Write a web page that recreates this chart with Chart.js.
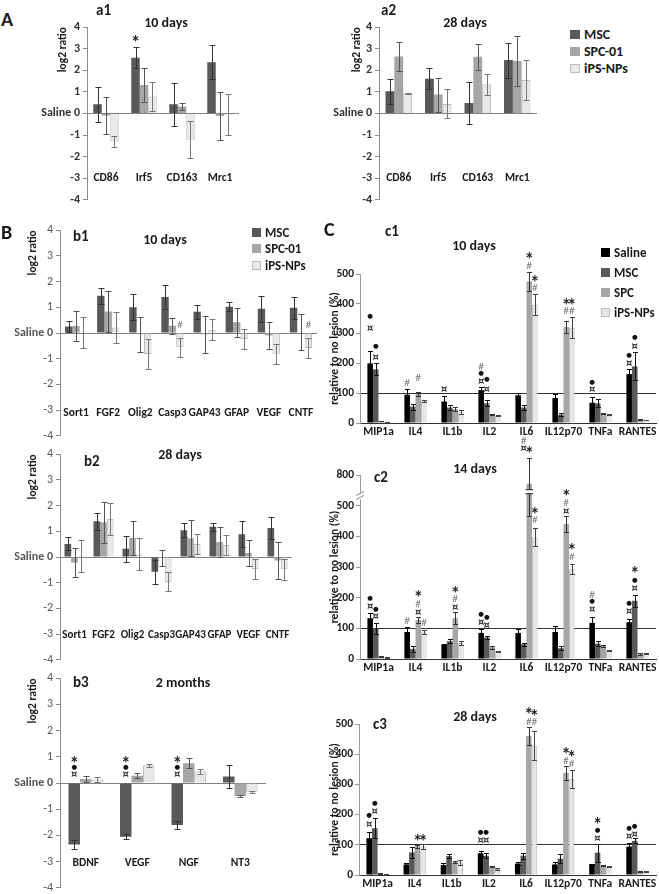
<!DOCTYPE html>
<html>
<head>
<meta charset="utf-8">
<script src="https://cdn.jsdelivr.net/npm/chart.js@4.4.0/dist/chart.umd.min.js"></script>
<style>
body{margin:0;background:#fff;width:659px;height:894px;position:relative;overflow:hidden;font-family:Carlito,Lato,sans-serif;color:#1a1a1a}
canvas{position:absolute}
.t{position:absolute;font-weight:bold;white-space:nowrap;line-height:1}
.c{transform:translateX(-50%)}
.lg{position:absolute;font-weight:bold;white-space:nowrap}
.lg div{display:flex;align-items:center}
.lg span{display:inline-block;margin-right:4px;box-sizing:border-box}
</style>
</head>
<body>
<canvas id="a1"></canvas>
<canvas id="a2"></canvas>
<canvas id="b1"></canvas>
<canvas id="b2"></canvas>
<canvas id="b3"></canvas>
<canvas id="c1"></canvas>
<canvas id="c2"></canvas>
<canvas id="c3"></canvas>

<div class="t" style="left:1px;top:9px;font-size:20px">A</div>
<div class="t" style="left:96px;top:3px;font-size:15px">a1</div>
<div class="t c" style="left:166px;top:16px;font-size:14px">10 days</div>
<div class="t" style="left:381px;top:3px;font-size:15px">a2</div>
<div class="t c" style="left:465px;top:16px;font-size:14px">28 days</div>
<div class="lg" style="left:570px;top:26px;font-size:14px">
  <div style="height:17px"><span style="width:10px;height:9px;background:#595959"></span>MSC</div>
  <div style="height:17px"><span style="width:10px;height:9px;background:#a6a6a6"></span>SPC-01</div>
  <div style="height:17px"><span style="width:10px;height:9px;background:#e8e8e8;border:1px solid #bdbdbd"></span>iPS-NPs</div>
</div>

<div class="t" style="left:1px;top:222px;font-size:20px">B</div>
<div class="t" style="left:73px;top:229px;font-size:15px">b1</div>
<div class="t c" style="left:165px;top:233px;font-size:14px">10 days</div>
<div class="lg" style="left:252px;top:224px;font-size:13px">
  <div style="height:16.5px"><span style="width:9px;height:9px;background:#595959"></span>MSC</div>
  <div style="height:16.5px"><span style="width:9px;height:9px;background:#a6a6a6"></span>SPC-01</div>
  <div style="height:16.5px"><span style="width:9px;height:9px;background:#e8e8e8;border:1px solid #bdbdbd"></span>iPS-NPs</div>
</div>
<div class="t" style="left:84px;top:454px;font-size:15px">b2</div>
<div class="t c" style="left:180px;top:448px;font-size:14px">28 days</div>
<div class="t" style="left:73px;top:675px;font-size:15px">b3</div>
<div class="t c" style="left:183px;top:676px;font-size:14px">2 months</div>

<div class="t" style="left:324px;top:219px;font-size:20px">C</div>
<div class="t" style="left:385px;top:224px;font-size:15px">c1</div>
<div class="t c" style="left:474px;top:239px;font-size:14px">10 days</div>
<div class="lg" style="left:601px;top:242px;font-size:13px">
  <div style="height:20px"><span style="width:9px;height:9px;background:#000"></span>Saline</div>
  <div style="height:20px"><span style="width:9px;height:9px;background:#595959"></span>MSC</div>
  <div style="height:20px"><span style="width:9px;height:9px;background:#a6a6a6"></span>SPC</div>
  <div style="height:20px"><span style="width:9px;height:9px;background:#e6e6e6;border:1px solid #bdbdbd"></span>iPS-NPs</div>
</div>
<div class="t" style="left:374px;top:470px;font-size:15px">c2</div>
<div class="t c" style="left:475px;top:462px;font-size:14px">14 days</div>
<div class="t" style="left:373px;top:717px;font-size:15px">c3</div>
<div class="t c" style="left:475px;top:710px;font-size:14px">28 days</div>

<script>
// ---- A: macrophage markers, log2 ratio vs saline
const aGenes = ['CD86', 'Irf5', 'CD163', 'Mrc1'];
const a1MSC = [0.42, 2.58, 0.42, 2.37];
const a1MSCErr = [0.82, 0.48, 1.0, 0.8];
const a1SPC = [-0.1, 1.32, 0.32, -0.12];
const a1SPCErr = [0.87, 0.8, 0.16, 1.13];
const a1iPS = [-1.3, 0.78, -1.22, -0.05];
const a1iPSErr = [0.24, 0.69, 0.85, 0.94];

const a2MSC = [1.02, 1.6, 0.48, 2.47];
const a2MSCErr = [0.57, 0.48, 0.96, 0.81];
const a2SPC = [2.63, 0.87, 2.62, 2.43];
const a2SPCErr = [0.67, 0.79, 0.6, 1.17];
const a2iPS = [0.93, 0.44, 1.35, 1.55];
const a2iPSErr = [0.03, 0.67, 0.49, 0.94];

// ---- B: growth factors etc.
const bGenes = ['Sort1', 'FGF2', 'Olig2', 'Casp3', 'GAP43', 'GFAP', 'VEGF', 'CNTF'];
const b1MSC = [0.25, 1.45, 1.0, 1.4, 0.83, 1.02, 0.94, 0.98];
const b1MSCErr = [0.22, 0.32, 0.5, 0.45, 0.27, 0.17, 0.5, 0.42];
const b1SPC = [0.27, 0.84, -0.05, 0.28, -0.05, 0.42, -0.1, 0.02];
const b1SPCErr = [0.57, 0.8, 0.67, 0.32, 0.72, 0.56, 0.52, 0.7];
const b1iPS = [0.02, 0.21, -0.82, -0.55, 0.13, -0.23, -0.81, -0.58];
const b1iPSErr = [0.62, 0.6, 0.6, 0.37, 0.41, 0.39, 0.4, 0.4];

const b2MSC = [0.51, 1.39, 0.32, -0.57, 1.04, 1.18, 0.89, 1.13];
const b2MSCErr = [0.25, 0.33, 0.5, 0.47, 0.27, 0.16, 0.5, 0.42];
const b2SPC = [-0.22, 1.35, 0.75, -0.04, 0.73, 0.58, 0.16, -0.14];
const b2SPCErr = [0.57, 0.8, 0.66, 0.3, 0.7, 0.57, 0.52, 0.72];
const b2iPS = [0.04, 1.48, 0.1, -0.97, 0.51, 0.47, -0.47, -0.48];
const b2iPSErr = [0.63, 0.61, 0.62, 0.37, 0.4, 0.4, 0.38, 0.42];

const b3Genes = ['BDNF', 'VEGF', 'NGF', 'NT3'];
const b3MSC = [-2.35, -2.05, -1.6, 0.25];
const b3MSCErr = [0.17, 0.1, 0.15, 0.44];
const b3SPC = [0.15, 0.28, 0.75, -0.5];
const b3SPCErr = [0.12, 0.1, 0.19, 0.05];
const b3iPS = [0.13, 0.68, 0.45, -0.35];
const b3iPSErr = [0.1, 0.06, 0.1, 0.03];

// ---- C: cytokines, % of no lesion
const cyto = ['MIP1a', 'IL4', 'IL1b', 'IL2', 'IL6', 'IL12p70', 'TNFa', 'RANTES'];
const c1Saline = [200, 95, 72, 110, 93, 84, 68, 164];
const c1SalineErr = [40, 18, 17, 12, 8, 13, 20, 16];
const c1MSC = [180, 55, 52, 66, 52, 28, 66, 190];
const c1MSCErr = [20, 10, 10, 10, 7, 5, 13, 47];
const c1SPC = [7, 97, 47, 28, 475, 322, 33, 11];
const c1SPCErr = [1, 8, 8, 2, 33, 19, 2, 1];
const c1iPS = [3, 75, 36, 24, 397, 320, 28, 10];
const c1iPSErr = [1, 3, 7, 2, 36, 35, 2, 1];

const c2Saline = [133, 88, 47, 85, 85, 88, 118, 120];
const c2SalineErr = [17, 16, 3, 13, 12, 20, 20, 10];
const c2MSC = [100, 33, 58, 70, 48, 35, 50, 190];
const c2MSCErr = [17, 9, 6, 6, 4, 7, 8, 20];
const c2SPC = [8, 127, 133, 38, 715, 440, 43, 17];
const c2SPCErr = [1, 10, 20, 5, 250, 25, 3, 3];
const c2iPS = [5, 87, 52, 25, 397, 293, 27, 18];
const c2iPSErr = [1, 7, 6, 2, 30, 17, 2, 2];

const c3Saline = [122, 35, 33, 72, 38, 35, 36, 94];
const c3SalineErr = [22, 5, 7, 8, 6, 7, 2, 12];
const c3MSC = [155, 75, 63, 64, 64, 54, 74, 113];
const c3MSCErr = [33, 18, 7, 9, 10, 15, 30, 8];
const c3SPC = [4, 95, 43, 29, 460, 338, 31, 11];
const c3SPCErr = [1, 5, 3, 2, 30, 22, 2, 1];
const c3iPS = [3, 94, 42, 20, 428, 318, 28, 11];
const c3iPSErr = [1, 9, 8, 2, 48, 30, 2, 1];

const cTicks = [0, 100, 200, 300, 400, 500];
const c2Ticks = [0, 100, 200, 300, 400, 500, 800];

// significance marks: [category, dataset, y value, symbol]
const a1Marks = [[1, 0, 3.42, '*']];
const b1Marks = [[3, 2, 0.33, '#'], [7, 2, 0.32, '#']];
const b3Marks = [[0, 0, 0.31, '¤'], [0, 0, 0.6, '●'], [0, 0, 0.88, '*'],
  [1, 0, 0.31, '¤'], [1, 0, 0.6, '●'], [1, 0, 0.88, '*'],
  [2, 0, 0.31, '¤'], [2, 0, 0.6, '●'], [2, 0, 0.88, '*']];
const c1Marks = [[0, 0, 358, '●'], [0, 0, 319, '¤'], [0, 1, 256, '●'], [0, 1, 220, '¤'],
  [1, 0, 134, '#'], [1, 2, 153, '#'], [2, 0, 112, '¤'],
  [3, 0, 190, '#'], [3, 0, 166, '●'], [3, 0, 140, '¤'], [3, 1, 146, '●'], [3, 1, 114, '¤'],
  [4, 2, 559, '*'], [4, 2, 528, '#'], [4, 3, 484, '*'], [4, 3, 453, '#'], [4, 1, -58, '#'], [4, 1, -85, '¤'],
  [5, 2, 406, '*'], [5, 2, 375, '#'], [5, 3, 406, '*'], [5, 3, 375, '#'],
  [6, 0, 136, '●'], [6, 0, 114, '¤'],
  [7, 0, 227, '●'], [7, 0, 199, '¤'], [7, 1, 287, '●'], [7, 1, 257, '¤']];
const c2Marks = [[0, 0, 198, '●'], [0, 0, 170, '¤'], [0, 1, 161, '●'], [0, 1, 138, '¤'],
  [1, 0, 124, '#'], [1, 2, 211, '*'], [1, 2, 181, '#'], [1, 2, 152, '¤'], [1, 3, 119, '#'],
  [2, 2, 226, '*'], [2, 2, 197, '#'], [2, 2, 168, '¤'],
  [3, 0, 146, '●'], [3, 0, 120, '¤'], [3, 1, 135, '●'], [3, 1, 111, '¤'],
  [4, 2, 1040, '*'], [4, 3, 482, '*'], [4, 3, 455, '#'],
  [5, 2, 623, '*'], [5, 2, 533, '#'], [5, 2, 482, '¤'], [5, 3, 363, '*'], [5, 3, 333, '#'],
  [6, 0, 210, '#'], [6, 0, 189, '●'], [6, 0, 161, '¤'],
  [7, 0, 181, '●'], [7, 0, 154, '¤'], [7, 1, 288, '*'], [7, 1, 256, '●'], [7, 1, 231, '¤']];
const c3Marks = [[0, 0, 196, '●'], [0, 0, 166, '¤'], [0, 1, 238, '●'], [0, 1, 210, '¤'],
  [1, 2, 122, '*'], [1, 3, 122, '*'],
  [3, 0, 140, '●'], [3, 0, 114, '¤'], [3, 1, 140, '●'], [3, 1, 114, '¤'],
  [4, 2, 542, '*'], [4, 2, 509, '#'], [4, 3, 536, '*'], [4, 3, 507, '#'],
  [5, 2, 411, '*'], [5, 2, 379, '#'], [5, 3, 401, '*'], [5, 3, 368, '#'],
  [6, 1, 177, '*'], [6, 1, 149, '●'], [6, 1, 122, '¤'],
  [7, 0, 153, '●'], [7, 0, 127, '¤'], [7, 1, 160, '●'], [7, 1, 135, '¤']];

Chart.defaults.font.family = 'Carlito, Lato, sans-serif';
Chart.defaults.color = '#222';

// y axis of c2 has a break above 500: values over 500 are squeezed 3x
class BrokenScale extends Chart.LinearScale {
  static id = 'broken';
  getPixelForValue(v) {
    return super.getPixelForValue(v > 500 ? 500 + (v - 500) / 3 : v);
  }
}
Chart.register(BrokenScale);

const markStyle = {
  '*': {font: 'bold 18px Lato', color: '#222', dy: 4},
  '●': {font: '6.5px "DejaVu Sans"', color: '#111', dy: 0},
  '¤': {font: 'bold 10px "DejaVu Sans"', color: '#333', dy: 0},
  '#': {font: '10px Lato', color: '#777', dy: 0}
};

function extrasFor(marks, cap, brk) {
  return {
    id: 'extras',
    afterDatasetsDraw(chart) {
      const ctx = chart.ctx, ys = chart.scales.y;
      ctx.save();
      chart.data.datasets.forEach((ds, di) => {
        chart.getDatasetMeta(di).data.forEach((bar, i) => {
          const v = ds.data[i], e = ds.errors[i];
          if (!e) return;
          const x = Math.round(bar.x) + 0.5;
          const y1 = Math.round(ys.getPixelForValue(v + e)) + 0.5;
          const y2 = Math.round(ys.getPixelForValue(v - e)) + 0.5;
          ctx.strokeStyle = ds.errColor;
          ctx.lineWidth = 1;
          ctx.beginPath();
          ctx.moveTo(x, y1); ctx.lineTo(x, y2);
          ctx.moveTo(x - cap, y1); ctx.lineTo(x + cap, y1);
          ctx.moveTo(x - cap, y2); ctx.lineTo(x + cap, y2);
          ctx.stroke();
        });
      });
      if (brk) {
        const bar = chart.getDatasetMeta(brk.di).data[brk.ci];
        const yHi = ys.getPixelForValue(brk.hi), yLo = ys.getPixelForValue(brk.lo);
        const hw = bar.width / 2 + 1;
        ctx.fillStyle = '#fff';
        ctx.fillRect(bar.x - hw, yHi, hw * 2, yLo - yHi);
        ctx.strokeStyle = '#222';
        ctx.beginPath();
        ctx.moveTo(bar.x - hw, yHi); ctx.lineTo(bar.x + hw, yHi);
        ctx.moveTo(bar.x - hw, yLo); ctx.lineTo(bar.x + hw, yLo);
        ctx.stroke();
        const ax = chart.chartArea.left, ya = ys.getPixelForValue(brk.axis);
        ctx.fillRect(ax - 2, ya - 3, 4, 6);
        ctx.strokeStyle = '#888';
        ctx.beginPath();
        ctx.moveTo(ax - 4, ya - 1); ctx.lineTo(ax + 4, ya - 5);
        ctx.moveTo(ax - 4, ya + 3); ctx.lineTo(ax + 4, ya - 1);
        ctx.stroke();
      }
      ctx.textAlign = 'center';
      ctx.textBaseline = 'middle';
      marks.forEach(([ci, di, val, sym]) => {
        const bar = chart.getDatasetMeta(di).data[ci];
        const st = markStyle[sym];
        ctx.font = st.font;
        ctx.fillStyle = st.color;
        ctx.fillText(sym, bar.x, ys.getPixelForValue(val) + st.dy);
      });
      ctx.restore();
    }
  };
}

function set(label, data, errors, color, errColor, cp, border) {
  return {
    label, data, errors, errColor,
    backgroundColor: color,
    borderColor: border || color,
    borderWidth: border ? 1 : 0,
    barPercentage: 1,
    categoryPercentage: cp
  };
}

// box = chart area in page pixels: L (y axis), R, T (top value), B (bottom value)
function barChart(id, box, labels, datasets, o) {
  const cv = document.getElementById(id);
  const p = o.pad;
  const w = p.left + o.yW + (box.R - box.L) + p.right;
  const h = p.top + (box.B - box.T) + (o.xH || 0) + p.bottom;
  cv.width = w; cv.height = h;
  cv.style.width = w + 'px'; cv.style.height = h + 'px';
  cv.style.left = (box.L - o.yW - p.left) + 'px';
  cv.style.top = (box.T - p.top) + 'px';
  const y = o.scales.y;
  y.afterFit = s => { s.width = o.yW; };
  y.title.padding = {top: o.titleX - (box.L - o.yW - p.left) - y.title.font.size * 0.6, bottom: 0};
  if (o.xH) o.scales.x.afterFit = s => { s.height = o.xH; };
  return new Chart(cv, {
    type: 'bar',
    data: {labels, datasets},
    options: {
      responsive: false,
      animation: false,
      events: [],
      layout: {padding: p},
      plugins: {legend: {display: false}, tooltip: {enabled: false}},
      scales: o.scales
    },
    plugins: [extrasFor(o.marks, o.cap, o.brk)]
  });
}

function logScales(labelAt, xFont, boldTicks) {
  return {
    x: {
      position: {y: labelAt},
      grid: {display: false, drawTicks: false},
      border: {display: false},
      ticks: {autoSkip: false, maxRotation: 0, minRotation: 0, padding: 3, color: '#1a1a1a',
        font: {size: xFont, weight: 'bold'}}
    },
    y: {
      min: -4, max: 4,
      ticks: {
        stepSize: 1, padding: 3,
        color: boldTicks ? '#333' : '#555',
        font: c => ({size: 12, weight: (boldTicks || (c.tick && c.tick.value === 0)) ? 'bold' : 'normal'}),
        callback: v => v === 0 ? 'Saline 0' : v
      },
      grid: {
        color: c => c.tick && c.tick.value === 0 ? '#808080' : 'rgba(0,0,0,0)',
        tickColor: '#8c8c8c', tickLength: 4
      },
      border: {color: '#8c8c8c'},
      title: {display: true, text: 'log2 ratio', align: 'end', color: '#1a1a1a',
        font: {size: 11.5, weight: 'bold'}}
    }
  };
}

function cScales(type, max, ticks) {
  return {
    x: {
      grid: {display: false, drawTicks: false},
      border: {color: '#333'},
      ticks: {autoSkip: false, maxRotation: 0, minRotation: 0, padding: 2, color: '#1a1a1a',
        font: {size: 11.5, weight: 'bold'}}
    },
    y: {
      type, min: 0, max,
      afterBuildTicks: s => { s.ticks = ticks.map(v => ({value: v})); },
      ticks: {padding: 2, color: '#222', font: {size: 11.5, weight: 'bold'}},
      grid: {
        color: c => c.tick && c.tick.value === 100 ? '#333' : 'rgba(0,0,0,0)',
        tickColor: '#999', tickLength: 4
      },
      border: {color: '#999'},
      title: {display: true, text: 'relative to no lesion (%)', color: '#1a1a1a',
        font: {size: 11.5, weight: 'bold'}}
    }
  };
}

const gDark = '#595959', gMid = '#a6a6a6', gLight = '#e8e8e8', gEdge = '#bdbdbd';

function logSets(m, me, s, se, ip, ie, cp) {
  return [
    set('MSC', m, me, gDark, '#333', cp),
    set('SPC-01', s, se, gMid, '#555', cp),
    set('iPS-NPs', ip, ie, gLight, '#777', cp, gEdge)
  ];
}
function cSets(sa, sae, m, me, s, se, ip, ie) {
  return [
    set('Saline', sa, sae, '#000', '#000', 0.6),
    set('MSC', m, me, gDark, '#111', 0.6),
    set('SPC', s, se, gMid, '#333', 0.6),
    set('iPS-NPs', ip, ie, '#e6e6e6', '#444', 0.6, gEdge)
  ];
}

barChart('a1', {L: 87, R: 239, T: 27, B: 202}, aGenes,
  logSets(a1MSC, a1MSCErr, a1SPC, a1SPCErr, a1iPS, a1iPSErr, 0.67),
  {yW: 60, titleX: 63, pad: {left: 0, top: 14, right: 12, bottom: 8}, cap: 3, marks: a1Marks,
   scales: logScales(-2.56, 11.5, true)});
barChart('a2', {L: 379, R: 537, T: 27, B: 202}, aGenes,
  logSets(a2MSC, a2MSCErr, a2SPC, a2SPCErr, a2iPS, a2iPSErr, 0.67),
  {yW: 60, titleX: 357, pad: {left: 0, top: 14, right: 10, bottom: 8}, cap: 3, marks: [],
   scales: logScales(-2.56, 11.5, true)});

barChart('b1', {L: 60, R: 317, T: 230, B: 438}, bGenes,
  logSets(b1MSC, b1MSCErr, b1SPC, b1SPCErr, b1iPS, b1iPSErr, 0.69),
  {yW: 56, titleX: 33, pad: {left: 0, top: 10, right: 8, bottom: 8}, cap: 3, marks: b1Marks,
   scales: logScales(-2.72, 11.5, false)});
barChart('b2', {L: 60, R: 292, T: 452, B: 662}, bGenes,
  logSets(b2MSC, b2MSCErr, b2SPC, b2SPCErr, b2iPS, b2iPSErr, 0.69),
  {yW: 56, titleX: 33, pad: {left: 0, top: 8, right: 8, bottom: 8}, cap: 3, marks: [],
   scales: logScales(-2.67, 11, false)});
barChart('b3', {L: 60, R: 266, T: 678, B: 890}, b3Genes,
  logSets(b3MSC, b3MSCErr, b3SPC, b3SPCErr, b3iPS, b3iPSErr, 0.67),
  {yW: 56, titleX: 33, pad: {left: 0, top: 10, right: 8, bottom: 8}, cap: 3, marks: b3Marks,
   scales: logScales(-2.68, 11.5, false)});

barChart('c1', {L: 360, R: 656, T: 274, B: 423}, cyto,
  cSets(c1Saline, c1SalineErr, c1MSC, c1MSCErr, c1SPC, c1SPCErr, c1iPS, c1iPSErr),
  {yW: 40, xH: 17, titleX: 335, pad: {left: 0, top: 40, right: 3, bottom: 20}, cap: 2.5, marks: c1Marks,
   scales: cScales('linear', 500, cTicks)});
barChart('c2', {L: 360, R: 656, T: 475, B: 659}, cyto,
  cSets(c2Saline, c2SalineErr, c2MSC, c2MSCErr, c2SPC, c2SPCErr, c2iPS, c2iPSErr),
  {yW: 40, xH: 17, titleX: 335, pad: {left: 0, top: 34, right: 3, bottom: 6}, cap: 2.5, marks: c2Marks,
   brk: {ci: 4, di: 2, lo: 617, hi: 656, axis: 590},
   scales: cScales('broken', 600, c2Ticks)});
barChart('c3', {L: 359, R: 656, T: 724, B: 875}, cyto,
  cSets(c3Saline, c3SalineErr, c3MSC, c3MSCErr, c3SPC, c3SPCErr, c3iPS, c3iPSErr),
  {yW: 40, xH: 17, titleX: 335, pad: {left: 0, top: 30, right: 3, bottom: 4}, cap: 2.5, marks: c3Marks,
   scales: cScales('linear', 500, cTicks)});
</script>
</body>
</html>
